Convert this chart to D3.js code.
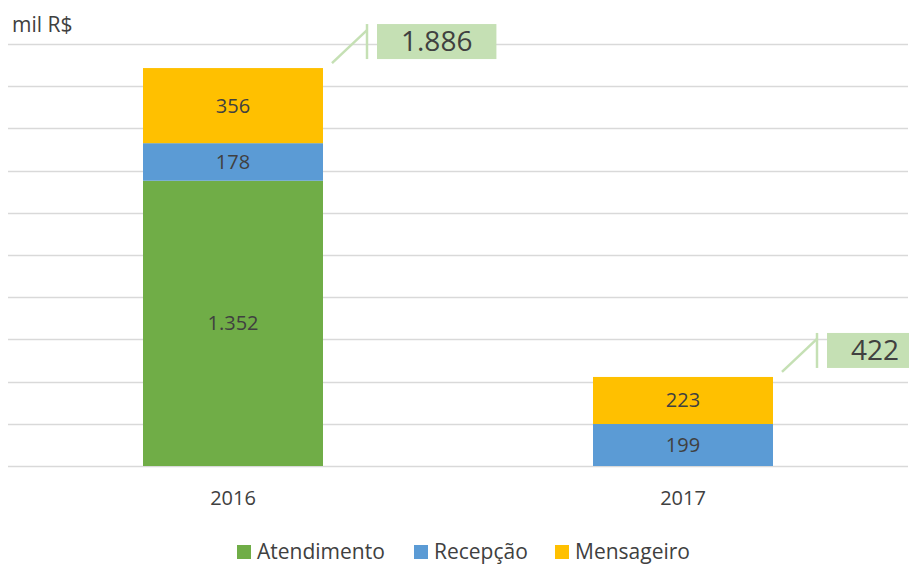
<!DOCTYPE html>
<html>
<head>
<meta charset="utf-8">
<script src="https://cdn.jsdelivr.net/npm/d3@7"></script>
<style>
  body { margin: 0; background: #fff; }
  text { font-family: "Open Sans", sans-serif; fill: #404040; }
</style>
</head>
<body>
<script>
var width = 909;
var height = 564;

var years = ["2016", "2017"];
var series = ["Atendimento", "Recepção", "Mensageiro"];
var atendimento = [1352, 0];
var recepcao = [178, 199];
var mensageiro = [356, 223];
var totals = [1886, 422];
var colors = ["#70AD47", "#5B9BD5", "#FFC000"];

var rows = years.map(function(y, i) {
    return { year: y, "Atendimento": atendimento[i], "Recepção": recepcao[i], "Mensageiro": mensageiro[i], total: totals[i] };
});

var svg = d3.select("body").append("svg")
    .attr("width", width)
    .attr("height", height);

var xScale = d3.scaleBand()
    .domain(years)
    .range([8, 908])
    .paddingInner(0.6)
    .paddingOuter(0.3);

var yScale = d3.scaleLinear()
    .domain([0, 2000])
    .range([466, 44]);

var colorScale = d3.scaleOrdinal().domain(series).range(colors);

// gridlines
svg.append("g")
    .selectAll("line")
    .data(d3.range(0, 2001, 200))
    .enter().append("line")
    .attr("x1", 8)
    .attr("x2", 908)
    .attr("y1", function(d) { return Math.round(yScale(d)) + 0.5; })
    .attr("y2", function(d) { return Math.round(yScale(d)) + 0.5; })
    .attr("stroke", "#d9d9d9")
    .attr("stroke-width", 1.5);

svg.append("text")
    .attr("x", 12)
    .attr("y", 32)
    .style("font-size", "21px")
    .text("mil R$");

var stacked = d3.stack().keys(series)(rows);

var layer = svg.selectAll(".layer")
    .data(stacked)
    .enter().append("g")
    .attr("class", "layer")
    .attr("fill", function(d) { return colorScale(d.key); });

layer.selectAll("rect")
    .data(function(d) { return d.filter(function(p) { return p[1] > p[0]; }); })
    .enter().append("rect")
    .attr("x", function(d) { return xScale(d.data.year); })
    .attr("width", xScale.bandwidth())
    .attr("y", function(d) { return yScale(d[1]); })
    .attr("height", function(d) { return yScale(d[0]) - yScale(d[1]); });

var fmt = function(v) { return d3.format(",")(v).replace(/,/g, "."); };

layer.selectAll("text.val")
    .data(function(d) { return d.filter(function(p) { return p[1] > p[0]; }); })
    .enter().append("text")
    .attr("class", "val")
    .attr("x", function(d) { return xScale(d.data.year) + xScale.bandwidth() / 2; })
    .attr("y", function(d) { return (yScale(d[0]) + yScale(d[1])) / 2; })
    .attr("dy", "0.35em")
    .attr("text-anchor", "middle")
    .style("font-size", "20px")
    .text(function(d) { return fmt(d[1] - d[0]); });

// x axis labels
svg.selectAll(".xlab")
    .data(years)
    .enter().append("text")
    .attr("class", "xlab")
    .attr("x", function(d) { return xScale(d) + xScale.bandwidth() / 2; })
    .attr("y", 505)
    .attr("text-anchor", "middle")
    .style("font-size", "20px")
    .text(function(d) { return d; });

// total callouts
var callout = svg.selectAll(".callout")
    .data(rows)
    .enter().append("g")
    .attr("class", "callout");

callout.each(function(d) {
    var g = d3.select(this);
    var right = xScale(d.year) + xScale.bandwidth();
    var top = yScale(d.total);
    var lineX = right + 44;
    g.append("line")
        .attr("x1", right + 9).attr("y1", top - 5)
        .attr("x2", lineX).attr("y2", top - 38)
        .attr("stroke", "#C5E0B4").attr("stroke-width", 2.5);
    g.append("line")
        .attr("x1", lineX).attr("y1", top - 44)
        .attr("x2", lineX).attr("y2", top - 9)
        .attr("stroke", "#C5E0B4").attr("stroke-width", 2.5);
    var box = g.append("rect")
        .attr("x", lineX + 10)
        .attr("y", top - 44)
        .attr("height", 35)
        .attr("fill", "#C5E0B4");
    var t = g.append("text")
        .attr("y", top - 26.5)
        .attr("dy", "0.35em")
        .attr("text-anchor", "middle")
        .style("font-size", "28px")
        .text(fmt(d.total));
    var w = t.node().getComputedTextLength() + 48;
    box.attr("width", w);
    t.attr("x", lineX + 10 + w / 2);
});

// legend
var legendX = [237, 414, 555];
var legend = svg.selectAll(".legend")
    .data(series)
    .enter().append("g")
    .attr("class", "legend")
    .attr("transform", function(d, i) { return "translate(" + legendX[i] + ",0)"; });

legend.append("rect")
    .attr("x", 0)
    .attr("y", 545)
    .attr("width", 14)
    .attr("height", 14)
    .attr("fill", colorScale);

legend.append("text")
    .attr("x", 20)
    .attr("y", 559)
    .style("font-size", "21px")
    .text(function(d) { return d; });
</script>
</body>
</html>
